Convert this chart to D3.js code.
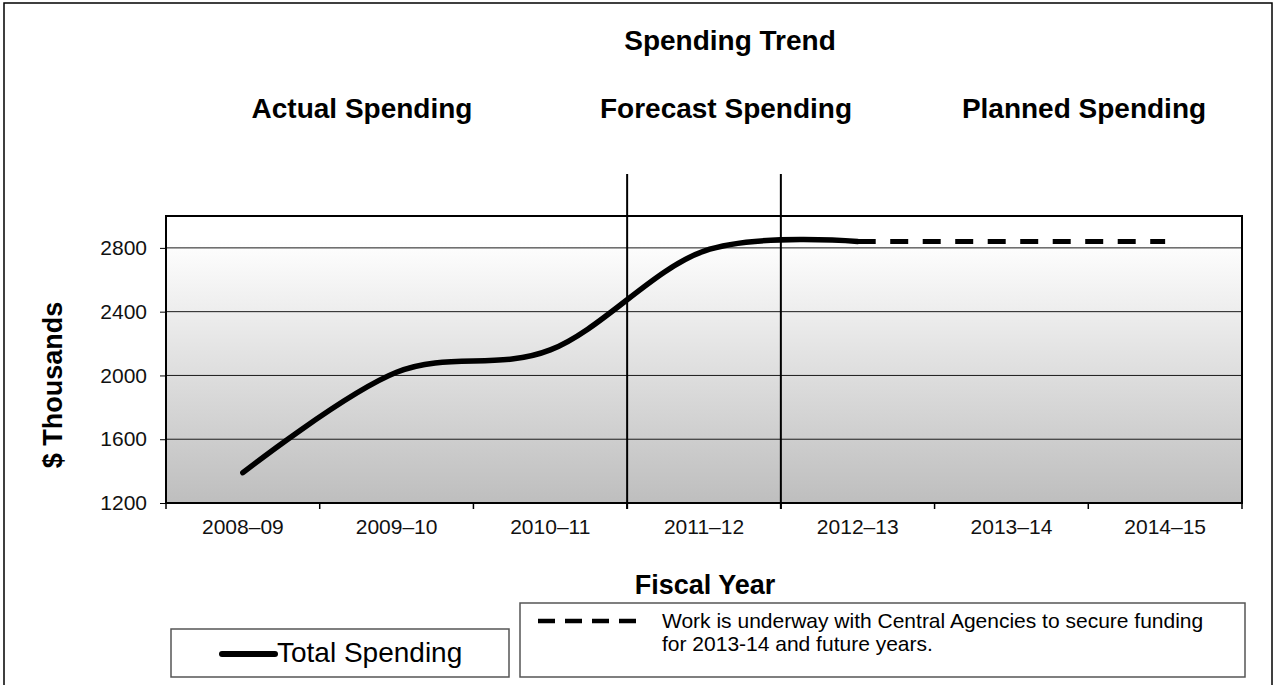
<!DOCTYPE html>
<html>
<head>
<meta charset="utf-8">
<script src="https://cdn.jsdelivr.net/npm/d3@7"></script>
<style>
  body { margin: 0; background: #fff; }
  svg { display: block; font-family: "Liberation Sans", Arial, sans-serif; }
</style>
</head>
<body>
<div id="chart"></div>
<script>
// data
const years = ['2008–09', '2009–10', '2010–11', '2011–12', '2012–13', '2013–14', '2014–15']
const actualYears = ['2008–09', '2009–10', '2010–11', '2011–12', '2012–13']
const totalSpending = [1390, 2020, 2160, 2780, 2840]
const plannedYears = ['2012–13', '2013–14', '2014–15']
const plannedSpending = [2840, 2840, 2840]
const yTicks = [1200, 1600, 2000, 2400, 2800]
const sections = ['Actual Spending', 'Forecast Spending', 'Planned Spending']
const dividers = ['2011–12', '2012–13']

const width = 1280
const height = 685
const margin = { top: 216, right: 38, bottom: 182, left: 166 }

const svg = d3.select('#chart')
    .append('svg')
    .attr('width', width)
    .attr('height', height)

// page border
svg.append('rect')
    .attr('x', 4).attr('y', 3)
    .attr('width', 1268).attr('height', 700)
    .attr('fill', 'none')
    .attr('stroke', '#000')
    .attr('stroke-width', 1.5)

const x = d3.scaleBand()
    .domain(years)
    .range([margin.left, width - margin.right])

const y = d3.scaleLinear()
    .domain([1200, 3000])
    .range([height - margin.bottom, margin.top])

const cx = d => x(d) + x.bandwidth() / 2

// background gradient
const grad = svg.append('defs').append('linearGradient')
    .attr('id', 'bg')
    .attr('x1', 0).attr('y1', 0).attr('x2', 0).attr('y2', 1)
grad.append('stop').attr('offset', '0%').attr('stop-color', '#ffffff')
grad.append('stop').attr('offset', '8%').attr('stop-color', '#ffffff')
grad.append('stop').attr('offset', '100%').attr('stop-color', '#bebebe')

svg.append('rect')
    .attr('x', margin.left)
    .attr('y', margin.top)
    .attr('width', x.range()[1] - margin.left)
    .attr('height', y(1200) - y(3000))
    .attr('fill', 'url(#bg)')

// gridlines
svg.selectAll('.grid')
    .data(yTicks.slice(1))
    .enter()
    .append('line')
    .attr('class', 'grid')
    .attr('x1', margin.left)
    .attr('x2', x.range()[1])
    .attr('y1', d => y(d))
    .attr('y2', d => y(d))
    .attr('stroke', '#1a1a1a')
    .attr('stroke-width', 1)

// axes
const yAxis = d3.axisLeft(y)
    .tickValues(yTicks)
    .tickFormat(d3.format('d'))
    .tickSize(6)
    .tickPadding(13)
const gy = svg.append('g')
    .attr('transform', `translate(${margin.left},0)`)
    .call(yAxis)
gy.select('.domain').remove()
gy.selectAll('text')
    .style('font-size', '21px')
    .attr('fill', '#111')

const xAxis = d3.axisBottom(x).tickSize(0).tickPadding(16)
const gx = svg.append('g')
    .attr('transform', `translate(0,${y(1200)})`)
    .call(xAxis)
gx.select('.domain').remove()
gx.selectAll('text')
    .style('font-size', '21px')
    .attr('fill', '#111')

// x ticks at category boundaries
svg.selectAll('.xtick')
    .data(years.concat(['end']))
    .enter()
    .append('line')
    .attr('x1', d => d == 'end' ? x.range()[1] : x(d))
    .attr('x2', d => d == 'end' ? x.range()[1] : x(d))
    .attr('y1', y(1200))
    .attr('y2', y(1200) + 6)
    .attr('stroke', '#000')
    .attr('stroke-width', 1.5)

// plot frame
svg.append('rect')
    .attr('x', margin.left)
    .attr('y', margin.top)
    .attr('width', x.range()[1] - margin.left)
    .attr('height', y(1200) - y(3000))
    .attr('fill', 'none')
    .attr('stroke', '#000')
    .attr('stroke-width', 2)

// dividers between actual / forecast / planned
svg.selectAll('.divider')
    .data(dividers)
    .enter()
    .append('line')
    .attr('x1', d => x(d))
    .attr('x2', d => x(d))
    .attr('y1', 174)
    .attr('y2', y(1200) + 6)
    .attr('stroke', '#000')
    .attr('stroke-width', 2)

// planned (dashed) line
const plannedLine = d3.line()
    .x((d, i) => cx(plannedYears[i]))
    .y(d => y(d))
svg.append('path')
    .datum(plannedSpending)
    .attr('d', plannedLine)
    .attr('fill', 'none')
    .attr('stroke', '#000')
    .attr('stroke-width', 5)
    .attr('stroke-dasharray', '18,14.5')

// total spending (smoothed)
const totalLine = d3.line()
    .x((d, i) => cx(actualYears[i]))
    .y(d => y(d))
    .curve(d3.curveCardinal.tension(0))
svg.append('path')
    .datum(totalSpending)
    .attr('d', totalLine)
    .attr('fill', 'none')
    .attr('stroke', '#000')
    .attr('stroke-width', 5.5)
    .attr('stroke-linecap', 'round')

// titles
svg.append('text')
    .attr('x', 730).attr('y', 50)
    .attr('text-anchor', 'middle')
    .style('font-size', '28px').style('font-weight', 'bold')
    .text('Spending Trend')

const sectionX = [362, 726, 1084]
svg.selectAll('.section')
    .data(sections)
    .enter()
    .append('text')
    .attr('x', (d, i) => sectionX[i])
    .attr('y', 118)
    .attr('text-anchor', 'middle')
    .style('font-size', '28px').style('font-weight', 'bold')
    .text(d => d)

svg.append('text')
    .attr('transform', 'translate(62,385) rotate(-90)')
    .attr('text-anchor', 'middle')
    .style('font-size', '27px').style('font-weight', 'bold')
    .text('$ Thousands')

svg.append('text')
    .attr('x', 705).attr('y', 594)
    .attr('text-anchor', 'middle')
    .style('font-size', '27px').style('font-weight', 'bold')
    .text('Fiscal Year')

// legend: total spending
svg.append('rect')
    .attr('x', 171).attr('y', 629)
    .attr('width', 338).attr('height', 48)
    .attr('fill', '#fff').attr('stroke', '#555').attr('stroke-width', 1.5)
svg.append('line')
    .attr('x1', 222).attr('x2', 275)
    .attr('y1', 654).attr('y2', 654)
    .attr('stroke', '#000').attr('stroke-width', 6).attr('stroke-linecap', 'round')
svg.append('text')
    .attr('x', 277).attr('y', 662)
    .style('font-size', '28px')
    .text('Total Spending')

// legend: dashed note
svg.append('rect')
    .attr('x', 520).attr('y', 603)
    .attr('width', 725).attr('height', 74)
    .attr('fill', '#fff').attr('stroke', '#555').attr('stroke-width', 1.5)
svg.append('line')
    .attr('x1', 538).attr('x2', 636)
    .attr('y1', 621).attr('y2', 621)
    .attr('stroke', '#000').attr('stroke-width', 4.5).attr('stroke-dasharray', '17,10')
svg.append('text')
    .attr('x', 662).attr('y', 628)
    .style('font-size', '21px')
    .text('Work is underway with Central Agencies to secure funding')
svg.append('text')
    .attr('x', 662).attr('y', 651)
    .style('font-size', '21px')
    .text('for 2013-14 and future years.')
</script>
</body>
</html>
